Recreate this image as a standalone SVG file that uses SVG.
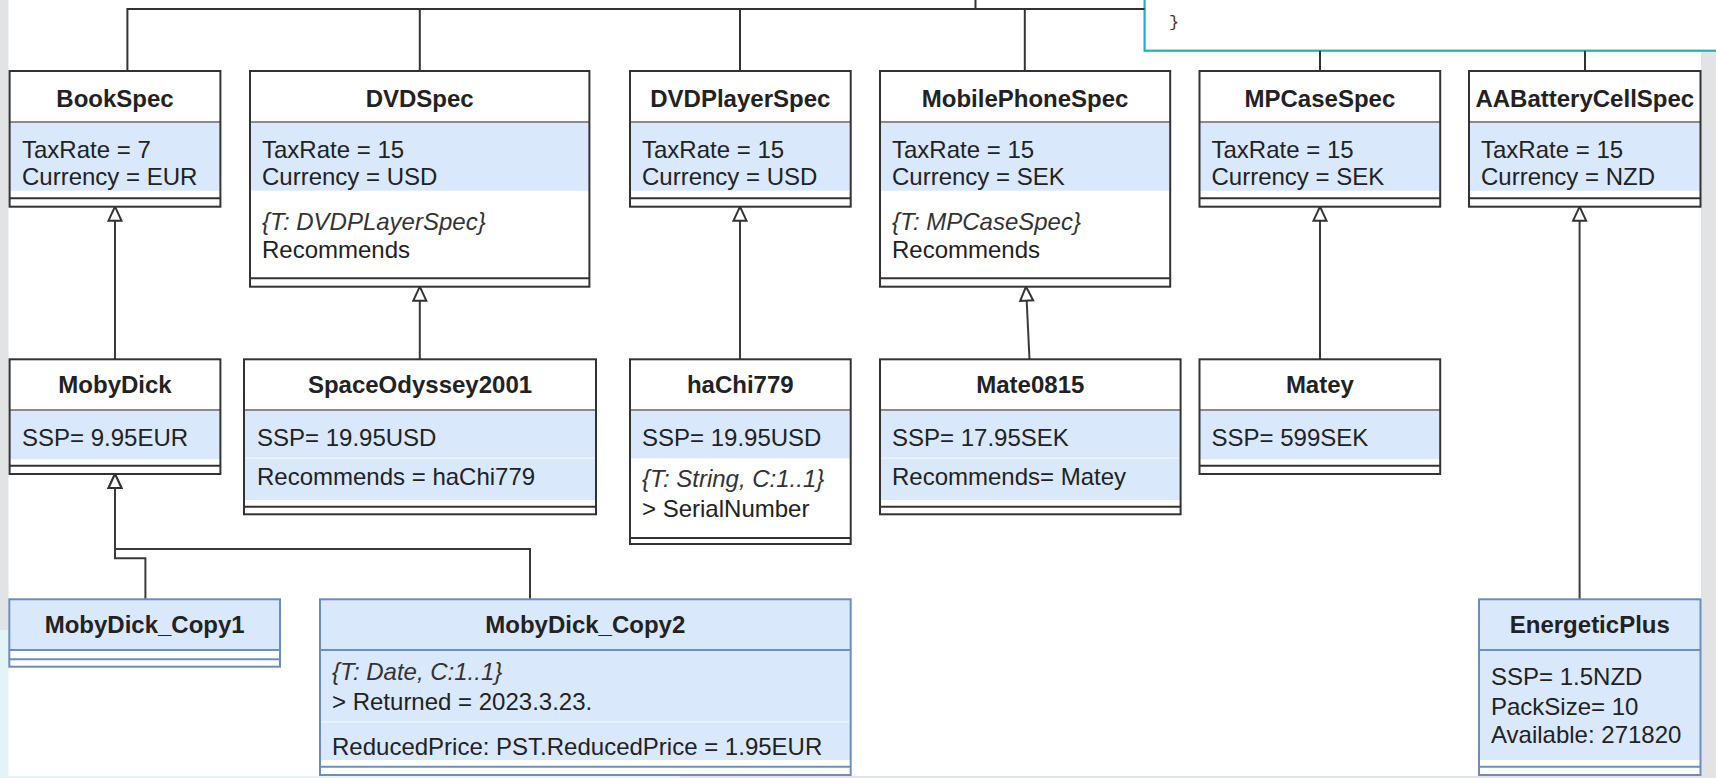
<svg xmlns="http://www.w3.org/2000/svg" width="1716" height="778" viewBox="0 0 1716 778">
  <style>
    .bg { fill: #ffffff; }
    .box { fill: #ffffff; }
    .frame { fill: none; stroke: #333333; stroke-width: 2; }
    .iframe { fill: none; stroke: #6c8ebf; stroke-width: 2; }
    .attr { fill: #dae8fc; }
    .sep { stroke: #8a8a8a; stroke-width: 2; }
    .isep { stroke: #6c8ebf; stroke-width: 2; }
    .soft { stroke: #eef4fd; stroke-width: 1.5; }
    .div { stroke: #333333; stroke-width: 2; }
    .idiv { stroke: #6c8ebf; stroke-width: 2; }
    .t { font-family: "Liberation Sans", Arial, sans-serif; font-size: 24px; fill: #222222; }
    .h { font-weight: bold; text-anchor: middle; }
    .i { font-style: italic; fill: #333333; }
    .conn { fill: none; stroke: #333333; stroke-width: 2; }
    .gen { fill: none; stroke: #3a3a3a; stroke-width: 2; marker-end: url(#tri); }
    .code { font-family: "Liberation Mono", "DejaVu Sans Mono", monospace; font-size: 17px; fill: #4a3418; }
  </style>
  <defs>
    <marker id="tri" markerUnits="userSpaceOnUse" viewBox="-16 -9 18 18" markerWidth="18" markerHeight="18" refX="0" refY="0" orient="auto" overflow="visible">
      <path d="M0,0 L-14,-6.5 L-14,6.5 Z" fill="#ffffff" stroke="#333333" stroke-width="2" stroke-linejoin="miter"/>
    </marker>
  </defs>

  <!-- page background and window edges -->
  <rect class="bg" x="0" y="0" width="1716" height="778"/>
  <rect x="0" y="0" width="8.5" height="630" fill="#e2e3e5"/>
  <rect x="0" y="630" width="8.5" height="148" fill="#e3f4f7"/>
  <rect x="1701" y="51" width="15" height="727" fill="#e2e3e5"/>
  <rect x="0" y="776" width="680" height="2" fill="#e3f4f7"/>
  <rect x="680" y="776" width="1036" height="2" fill="#e2e3e5"/>

  <!-- code note -->
  <g id="code-note">
    <rect x="1144.6" y="-10" width="580" height="60.7" fill="#ffffff" stroke="#22b0bd" stroke-width="2.2"/>
    <text class="code" x="1169" y="27">}</text>
  </g>

  <!-- connectors -->
  <g id="connectors">
    <path class="conn" d="M127.4,71 V9 H1144.6"/>
    <path class="conn" d="M419.8,71 V9"/>
    <path class="conn" d="M740,71 V9"/>
    <path class="conn" d="M975.5,9 V0"/>
    <path class="conn" d="M1024.8,71 V9" stroke="#555555"/>
    <path class="conn" d="M1320,71 V50.7"/>
    <path class="conn" d="M1585,71 V50.7" stroke="#555555"/>

    <path class="gen" d="M115,359.3 V206.7" stroke="#666666"/>
    <path class="gen" d="M419.8,359.3 V286.7"/>
    <path class="gen" d="M740,359.3 V206.7"/>
    <path class="gen" d="M1029.5,359.3 L1026,286.7"/>
    <path class="gen" d="M1320,359.3 V206.7"/>
    <path class="gen" d="M1579.6,599.3 V206.7" stroke="#555555"/>
    <path class="gen" d="M145.4,599.3 V558.3 H115 V474"/>
    <path class="gen" d="M530,599.3 V549 H115 V474"/>
  </g>

  <!-- specification classes -->
  <g id="BookSpec">
    <rect class="box" x="9.6" y="71" width="210.8" height="135.7"/>
    <rect class="attr" x="9.6" y="122" width="210.8" height="68.7"/>
    <line class="sep" x1="9.6" y1="122" x2="220.4" y2="122"/>
    <line class="div" x1="9.6" y1="198.3" x2="220.4" y2="198.3"/>
    <rect class="frame" x="9.6" y="71" width="210.8" height="135.7"/>
    <text class="t h" x="115" y="106.7">BookSpec</text>
    <text class="t" x="22" y="157.7">TaxRate = 7</text>
    <text class="t" x="22" y="185">Currency = EUR</text>
  </g>

  <g id="DVDSpec">
    <rect class="box" x="250" y="71" width="339.4" height="215.7"/>
    <rect class="attr" x="250" y="122" width="339.4" height="68.7"/>
    <line class="sep" x1="250" y1="122" x2="589.4" y2="122"/>
    <line class="div" x1="250" y1="278.3" x2="589.4" y2="278.3"/>
    <rect class="frame" x="250" y="71" width="339.4" height="215.7"/>
    <text class="t h" x="419.7" y="106.7">DVDSpec</text>
    <text class="t" x="262" y="157.7">TaxRate = 15</text>
    <text class="t" x="262" y="185">Currency = USD</text>
    <text class="t i" x="262" y="230">{T: DVDPLayerSpec}</text>
    <text class="t" x="262" y="258.3">Recommends</text>
  </g>

  <g id="DVDPlayerSpec">
    <rect class="box" x="630" y="71" width="220.7" height="135.7"/>
    <rect class="attr" x="630" y="122" width="220.7" height="68.7"/>
    <line class="sep" x1="630" y1="122" x2="850.7" y2="122"/>
    <line class="div" x1="630" y1="198.3" x2="850.7" y2="198.3"/>
    <rect class="frame" x="630" y="71" width="220.7" height="135.7"/>
    <text class="t h" x="740.3" y="106.7">DVDPlayerSpec</text>
    <text class="t" x="642" y="157.7">TaxRate = 15</text>
    <text class="t" x="642" y="185">Currency = USD</text>
  </g>

  <g id="MobilePhoneSpec">
    <rect class="box" x="880" y="71" width="290.2" height="215.7"/>
    <rect class="attr" x="880" y="122" width="290.2" height="68.7"/>
    <line class="sep" x1="880" y1="122" x2="1170.2" y2="122"/>
    <line class="div" x1="880" y1="278.3" x2="1170.2" y2="278.3"/>
    <rect class="frame" x="880" y="71" width="290.2" height="215.7"/>
    <text class="t h" x="1025.1" y="106.7">MobilePhoneSpec</text>
    <text class="t" x="892" y="157.7">TaxRate = 15</text>
    <text class="t" x="892" y="185">Currency = SEK</text>
    <text class="t i" x="892" y="230">{T: MPCaseSpec}</text>
    <text class="t" x="892" y="258.3">Recommends</text>
  </g>

  <g id="MPCaseSpec">
    <rect class="box" x="1199.5" y="71" width="240.7" height="135.7"/>
    <rect class="attr" x="1199.5" y="122" width="240.7" height="68.7"/>
    <line class="sep" x1="1199.5" y1="122" x2="1440.2" y2="122"/>
    <line class="div" x1="1199.5" y1="198.3" x2="1440.2" y2="198.3"/>
    <rect class="frame" x="1199.5" y="71" width="240.7" height="135.7"/>
    <text class="t h" x="1319.9" y="106.7">MPCaseSpec</text>
    <text class="t" x="1211.5" y="157.7">TaxRate = 15</text>
    <text class="t" x="1211.5" y="185">Currency = SEK</text>
  </g>

  <g id="AABatteryCellSpec">
    <rect class="box" x="1469" y="71" width="231.5" height="135.7"/>
    <rect class="attr" x="1469" y="122" width="231.5" height="68.7"/>
    <line class="sep" x1="1469" y1="122" x2="1700.5" y2="122"/>
    <line class="div" x1="1469" y1="198.3" x2="1700.5" y2="198.3"/>
    <rect class="frame" x="1469" y="71" width="231.5" height="135.7"/>
    <text class="t h" x="1584.8" y="106.7">AABatteryCellSpec</text>
    <text class="t" x="1481" y="157.7">TaxRate = 15</text>
    <text class="t" x="1481" y="185">Currency = NZD</text>
  </g>

  <!-- product classes -->
  <g id="MobyDick">
    <rect class="box" x="9.6" y="359.3" width="210.8" height="114.7"/>
    <rect class="attr" x="9.6" y="410" width="210.8" height="49.3"/>
    <line class="sep" x1="9.6" y1="410" x2="220.4" y2="410"/>
    <line class="div" x1="9.6" y1="465.7" x2="220.4" y2="465.7"/>
    <rect class="frame" x="9.6" y="359.3" width="210.8" height="114.7"/>
    <text class="t h" x="115" y="393.3">MobyDick</text>
    <text class="t" x="22" y="446">SSP= 9.95EUR</text>
  </g>

  <g id="SpaceOdyssey2001">
    <rect class="box" x="244" y="359.3" width="352" height="155"/>
    <rect class="attr" x="244" y="410" width="352" height="90"/>
    <line class="soft" x1="245" y1="458.3" x2="595" y2="458.3"/>
    <line class="sep" x1="244" y1="410" x2="596" y2="410"/>
    <line class="div" x1="244" y1="506.7" x2="596" y2="506.7"/>
    <rect class="frame" x="244" y="359.3" width="352" height="155"/>
    <text class="t h" x="420" y="393.3">SpaceOdyssey2001</text>
    <text class="t" x="257" y="446">SSP= 19.95USD</text>
    <text class="t" x="257" y="485">Recommends = haChi779</text>
  </g>

  <g id="haChi779">
    <rect class="box" x="630" y="359.3" width="220.7" height="184.7"/>
    <rect class="attr" x="630" y="410" width="220.7" height="48.3"/>
    <line class="sep" x1="630" y1="410" x2="850.7" y2="410"/>
    <line class="div" x1="630" y1="538" x2="850.7" y2="538"/>
    <rect class="frame" x="630" y="359.3" width="220.7" height="184.7"/>
    <text class="t h" x="740.3" y="393.3">haChi779</text>
    <text class="t" x="642" y="446">SSP= 19.95USD</text>
    <text class="t i" x="642" y="486.7">{T: String, C:1..1}</text>
    <text class="t" x="642" y="516.7">&gt; SerialNumber</text>
  </g>

  <g id="Mate0815">
    <rect class="box" x="880" y="359.3" width="300.6" height="155"/>
    <rect class="attr" x="880" y="410" width="300.6" height="90"/>
    <line class="soft" x1="881" y1="458.3" x2="1179.6" y2="458.3"/>
    <line class="sep" x1="880" y1="410" x2="1180.6" y2="410"/>
    <line class="div" x1="880" y1="506.7" x2="1180.6" y2="506.7"/>
    <rect class="frame" x="880" y="359.3" width="300.6" height="155"/>
    <text class="t h" x="1030.3" y="393.3">Mate0815</text>
    <text class="t" x="892" y="446">SSP= 17.95SEK</text>
    <text class="t" x="892" y="485">Recommends= Matey</text>
  </g>

  <g id="Matey">
    <rect class="box" x="1199.5" y="359.3" width="240.7" height="114.7"/>
    <rect class="attr" x="1199.5" y="410" width="240.7" height="49.3"/>
    <line class="sep" x1="1199.5" y1="410" x2="1440.2" y2="410"/>
    <line class="div" x1="1199.5" y1="465.7" x2="1440.2" y2="465.7"/>
    <rect class="frame" x="1199.5" y="359.3" width="240.7" height="114.7"/>
    <text class="t h" x="1319.9" y="393.3">Matey</text>
    <text class="t" x="1211.5" y="446">SSP= 599SEK</text>
  </g>

  <!-- instances -->
  <g id="MobyDick_Copy1">
    <rect class="box" x="9.3" y="599.3" width="270.7" height="67.4"/>
    <rect class="attr" x="9.3" y="599.3" width="270.7" height="50.7"/>
    <line class="isep" x1="9.3" y1="650" x2="280" y2="650"/>
    <line class="idiv" x1="9.3" y1="659.3" x2="280" y2="659.3"/>
    <rect class="iframe" x="9.3" y="599.3" width="270.7" height="67.4"/>
    <text class="t h" x="144.7" y="633.3">MobyDick_Copy1</text>
  </g>

  <g id="MobyDick_Copy2">
    <rect class="box" x="320" y="599.3" width="530.7" height="175.7"/>
    <rect class="attr" x="320" y="599.3" width="530.7" height="160.7"/>
    <line class="soft" x1="321" y1="721.7" x2="849.7" y2="721.7"/>
    <line class="isep" x1="320" y1="650" x2="850.7" y2="650"/>
    <line class="idiv" x1="320" y1="766.7" x2="850.7" y2="766.7"/>
    <rect class="iframe" x="320" y="599.3" width="530.7" height="175.7"/>
    <text class="t h" x="585.3" y="633.3">MobyDick_Copy2</text>
    <text class="t i" x="332" y="680">{T: Date, C:1..1}</text>
    <text class="t" x="332" y="710">&gt; Returned = 2023.3.23.</text>
    <text class="t" x="332" y="755">ReducedPrice: PST.ReducedPrice = 1.95EUR</text>
  </g>

  <g id="EnergeticPlus">
    <rect class="box" x="1479" y="599.3" width="221.5" height="175.7"/>
    <rect class="attr" x="1479" y="599.3" width="221.5" height="160.7"/>
    <line class="isep" x1="1479" y1="650" x2="1700.5" y2="650"/>
    <line class="idiv" x1="1479" y1="766.7" x2="1700.5" y2="766.7"/>
    <rect class="iframe" x="1479" y="599.3" width="221.5" height="175.7"/>
    <text class="t h" x="1589.8" y="633.3">EnergeticPlus</text>
    <text class="t" x="1491" y="685">SSP= 1.5NZD</text>
    <text class="t" x="1491" y="715">PackSize= 10</text>
    <text class="t" x="1491" y="743.3">Available: 271820</text>
  </g>
</svg>
